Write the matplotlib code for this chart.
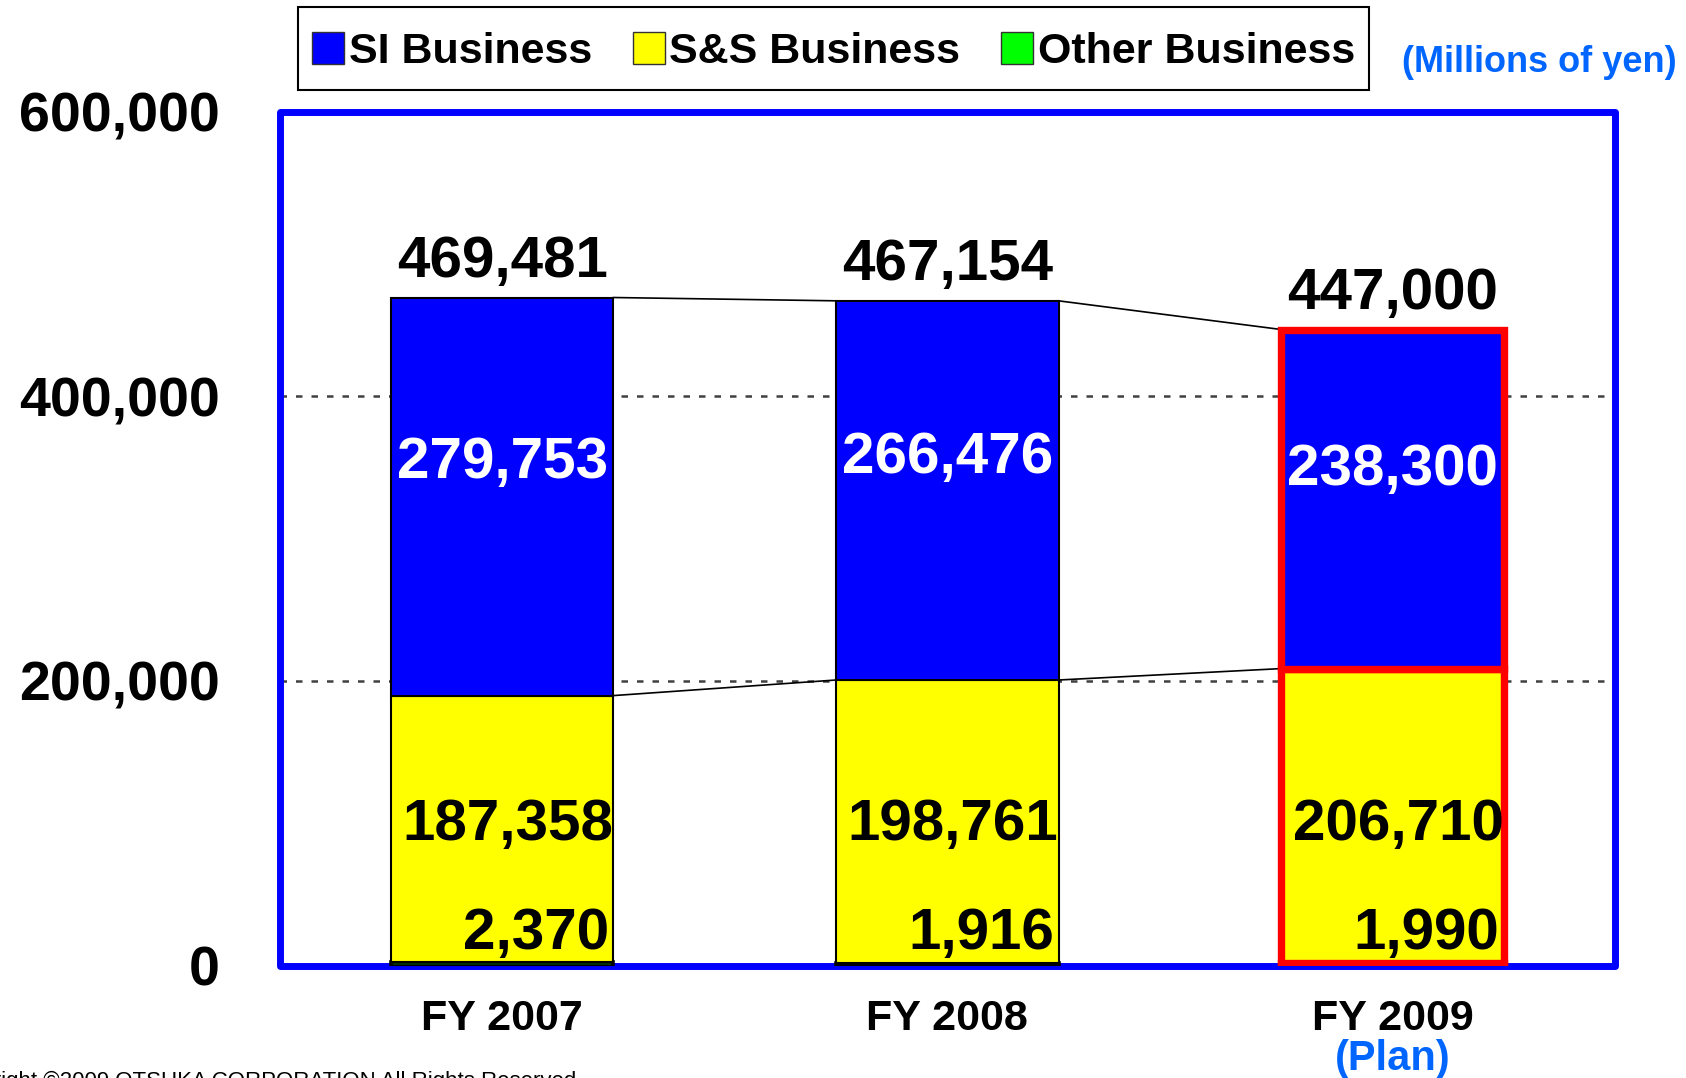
import matplotlib
matplotlib.use("Agg")
from matplotlib import pyplot as plt
from matplotlib.patches import Patch, Rectangle
import numpy as np

# Datos (millones de yenes)
years = ["FY 2007", "FY 2008", "FY 2009"]
other_biz = [2370, 1916, 1990]
ss_biz = [187358, 198761, 206710]
si_biz = [279753, 266476, 238300]
totals = [469481, 467154, 447000]
y_ticks = [0, 200000, 400000, 600000]
legend_labels = ["SI Business", "S&S Business", "Other Business"]

# Estilo
plt.rcParams['font.family'] = ['Liberation Sans', 'DejaVu Sans']
plt.rcParams['font.weight'] = 'bold'

c_si = '#0000FF'
c_ss = '#FFFF00'
c_other = '#00FF00'
c_note = '#0066FF'

W, H = 1686, 1078
fig = plt.figure(figsize=(W/100, H/100), dpi=100)
ax = fig.add_axes([0.1658, 0.1043, 0.7921, 0.7920])

x = np.arange(len(years))
w = 0.5
other = np.array(other_biz)
ss = np.array(ss_biz)
si = np.array(si_biz)
mid = other + ss
top = mid + si

# Barras apiladas (la del plan con borde rojo)
edges = ['black', 'black', '#FF0000']
lws = [1.5, 1.5, 5.3]
for i in range(len(x)):
    kw = dict(width=w, edgecolor=edges[i], zorder=3)
    ax.bar(x[i], other[i], color=c_other, linewidth=max(lws[i], 2.6), **kw)
    ax.bar(x[i], ss[i], bottom=other[i], color=c_ss, linewidth=lws[i], **kw)
    ax.bar(x[i], si[i], bottom=mid[i], color=c_si, linewidth=lws[i], **kw)

# Líneas de conexión entre barras
for i in range(len(x) - 1):
    ax.plot([x[i] + w/2, x[i+1] - w/2], [top[i], top[i+1]], color='black', lw=1.2, zorder=2)
    ax.plot([x[i] + w/2, x[i+1] - w/2], [mid[i], mid[i+1]], color='black', lw=1.2, zorder=2)

# Etiquetas de valores
for i in range(len(x)):
    ax.annotate(f"{totals[i]:,}", xy=(x[i], top[i]), xytext=(0, 15),
                textcoords='offset points', ha='center', va='baseline',
                fontsize=42, zorder=5)
    ax.text(x[i], mid[i] + 0.585*si[i], f"{si[i]:,}", color='white',
            ha='center', va='center', fontsize=42, zorder=5)
    ax.annotate(f"{ss[i]:,}", xy=(x[i], 0), xytext=(4, 101),
                textcoords='offset points', ha='center', va='center',
                fontsize=42, zorder=5)
    ax.annotate(f"{other[i]:,}", xy=(x[i] + w/2, 0), xytext=(-3, 23),
                textcoords='offset points', ha='right', va='center',
                fontsize=42, zorder=5)

# Ejes
ax.set_xlim(-0.5, 2.5)
ax.set_ylim(0, 600000)
ax.set_yticks(y_ticks)
ax.set_yticklabels([f"{v:,}" for v in y_ticks], fontsize=40)
ax.set_xticks(x)
ax.set_xticklabels(years, fontsize=31)
ax.tick_params(axis='y', length=0, pad=43)
ax.tick_params(axis='x', length=0, pad=24)
ax.yaxis.grid(True, color='#404040', lw=1.8, linestyle=(0, (2.6, 3.6)))
ax.set_axisbelow(True)
for s in ax.spines.values():
    s.set_visible(False)
ax.add_patch(Rectangle((0, 0), 1, 1, transform=ax.transAxes, fill=False,
                       edgecolor=c_si, lw=5, joinstyle='round',
                       clip_on=False, zorder=2.5))

ax.text(x[2], -0.11, "(Plan)", transform=ax.get_xaxis_transform(),
        ha='center', va='center', color=c_note, fontsize=30)

# Leyenda (marco dibujado aparte)
lx0, lx1, ly0, ly1 = 298, 1369, 7.5, 90
fig.patches.append(Rectangle((lx0/W, 1 - ly1/H), (lx1 - lx0)/W, (ly1 - ly0)/H,
                             transform=fig.transFigure, fill=False,
                             edgecolor='black', lw=1.5))
handles = [Patch(facecolor=c, edgecolor='#333333', lw=1) for c in (c_si, c_ss, c_other)]
fig.legend(handles, legend_labels, loc='center',
           bbox_to_anchor=((lx0 + lx1)/2/W, 1 - ((ly0 + ly1)/2 + 3)/H),
           ncol=3, fontsize=31, handlelength=0.75, handleheight=0.78,
           handletextpad=0.1, columnspacing=0.95, borderpad=0,
           borderaxespad=0, frameon=False)

fig.text(1677/W, 1 - 62/H, "(Millions of yen)", ha='right', va='center',
         color=c_note, fontsize=26)

fig.text(-58/W, 0.0065, "Copyright \u00a92009 OTSUKA CORPORATION All Rights Reserved.",
         ha='left', va='top', fontsize=16, fontweight='normal')

fig.savefig("out.png", dpi=100)
